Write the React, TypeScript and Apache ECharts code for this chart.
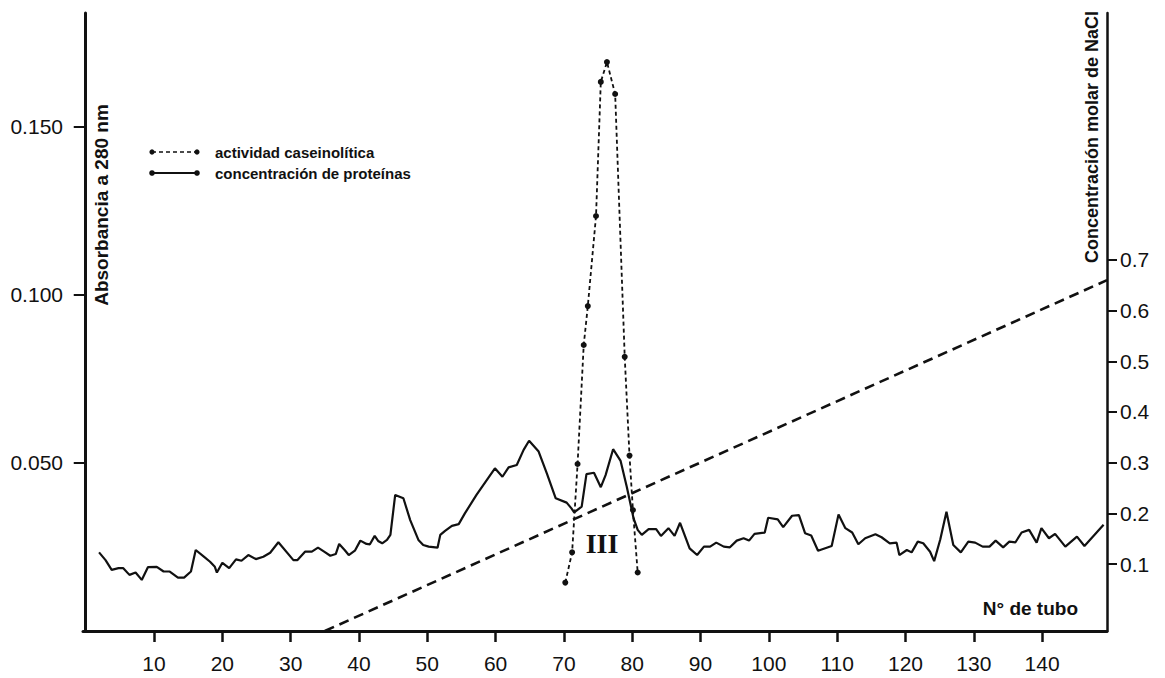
import React, { useEffect, useRef } from "react";
import * as echarts from "echarts";

// Concentración de proteínas (absorbancia a 280 nm) por nº de tubo
const proteinTubes = [
  1.95, 2.9, 3.8, 4.8, 5.5, 6.4, 7.3, 8.2, 9.1, 10.4, 11.4, 12.3, 13.5, 14.4, 15.4, 16.1, 17.2, 18.2, 18.9, 19.2,
  20.0, 21.0, 22.0, 22.8, 23.8, 24.9, 26.0, 27.0, 28.2, 30.4, 31.0, 32.1, 33.1, 34.0, 34.9, 35.8, 36.6, 37.1, 37.9,
  38.5, 39.4, 40.2, 41.1, 41.6, 42.3, 42.8, 43.4, 44.1, 44.6, 45.3, 46.5, 47.5, 48.7, 49.4, 50.2, 51.5, 51.9, 52.6,
  53.6, 54.6, 55.5, 57.2, 59.9, 61.0, 61.9, 63.1, 64.1, 64.9, 66.3, 67.5, 68.8, 70.4, 71.1, 71.5, 72.6, 73.3, 74.4,
  75.4, 76.1, 77.2, 78.3, 79.2, 80.2, 80.8, 81.4, 82.4, 83.5, 84.2, 85.3, 86.2, 87.0, 88.4, 89.5, 90.5, 91.4, 92.3,
  93.4, 94.3, 95.3, 96.3, 97.1, 97.9, 99.4, 99.9, 101.3, 102.1, 103.4, 104.4, 105.3, 106.2, 107.2, 109.2, 110.2,
  111.2, 112.2, 113.1, 114.1, 115.6, 116.5, 117.7, 118.7, 119.1, 120.2, 120.9, 121.8, 122.6, 123.6, 124.2, 125.1,
  126.0, 127.0, 128.1, 129.2, 130.2, 131.3, 132.3, 133.2, 134.3, 135.2, 136.1, 137.0, 138.1, 139.2, 139.9, 141.0,
  141.9, 143.4, 145.1, 146.2, 149.0,
];
const proteinAbs = [
  0.0234, 0.0211, 0.0182, 0.0187, 0.0187, 0.0167, 0.0174, 0.0152, 0.019, 0.0191, 0.0177, 0.0177, 0.0159, 0.0159,
  0.0177, 0.0241, 0.0223, 0.0206, 0.0191, 0.0174, 0.0203, 0.0187, 0.0213, 0.0209, 0.0226, 0.0214, 0.0221, 0.0233,
  0.0264, 0.0211, 0.0211, 0.0236, 0.0236, 0.0248, 0.0236, 0.0224, 0.0229, 0.0259, 0.0241, 0.0226, 0.0239, 0.0269,
  0.0259, 0.0258, 0.0283, 0.0268, 0.0261, 0.0271, 0.0286, 0.0405, 0.0395, 0.033, 0.0271, 0.0256, 0.0251, 0.0248,
  0.0286, 0.0298, 0.0313, 0.0318, 0.035, 0.0405, 0.0484, 0.0459, 0.0487, 0.0494, 0.0539, 0.0566, 0.0534, 0.0469,
  0.0395, 0.0382, 0.0365, 0.0353, 0.037, 0.0467, 0.0471, 0.0428, 0.0464, 0.0541, 0.0506, 0.0429, 0.0335, 0.0301,
  0.0286, 0.0303, 0.0303, 0.0283, 0.0306, 0.0283, 0.0322, 0.0246, 0.0226, 0.0251, 0.0251, 0.0263, 0.0251, 0.0249,
  0.0269, 0.0276, 0.0269, 0.0289, 0.0293, 0.0337, 0.0332, 0.0309, 0.0343, 0.0345, 0.0291, 0.0284, 0.0239, 0.0253,
  0.0347, 0.0306, 0.0293, 0.0258, 0.0276, 0.0288, 0.0279, 0.0261, 0.0263, 0.0226, 0.0241, 0.0234, 0.0266, 0.0261,
  0.0236, 0.0208, 0.0273, 0.0355, 0.0256, 0.0234, 0.0266, 0.0263, 0.0251, 0.0251, 0.0269, 0.0249, 0.0266, 0.0264,
  0.0293, 0.0301, 0.0263, 0.0306, 0.0276, 0.0289, 0.0251, 0.0281, 0.0253, 0.0316,
];

// Actividad caseinolítica
const activityTubes = [70.2, 71.2, 72.0, 72.9, 73.5, 74.7, 75.4, 76.3, 77.5, 78.9, 79.6, 80.1, 80.8];
const activityValues = [0.0144, 0.0234, 0.0497, 0.0851, 0.0967, 0.1235, 0.1634, 0.1693, 0.1598, 0.0816, 0.0522, 0.036, 0.0174];

// Gradiente de NaCl (concentración molar)
const gradientTubes = [35, 149.5];
const gradientNaCl = [-0.032, 0.66];

// Tick labels
const xTicks = [10, 20, 30, 40, 50, 60, 70, 80, 90, 100, 110, 120, 130, 140];
const leftTicks = [0.05, 0.1, 0.15];
const rightTicks = [0.1, 0.2, 0.3, 0.4, 0.5, 0.6, 0.7];

const FONT = "'Liberation Sans', Arial, Helvetica, sans-serif";

export default function App() {
  const ref = useRef<HTMLDivElement>(null);

  useEffect(() => {
    if (!ref.current) return;
    const chart = echarts.init(ref.current, null, { renderer: "svg" });
    const black = "#111";
    const option: any = {
      animation: false,
      backgroundColor: "#fff",
      grid: { left: 83, right: 58, top: 13, bottom: 47, containLabel: false },
      xAxis: {
        type: "value",
        min: -0.4,
        max: 149.5,
        splitLine: { show: false },
        axisLine: { onZero: false, lineStyle: { color: black, width: 3 } },
        axisTick: { customValues: xTicks, length: 11, lineStyle: { color: black, width: 2.5 } },
        axisLabel: { customValues: xTicks, margin: 22, color: black, fontSize: 21, fontFamily: FONT },
      },
      yAxis: [
        {
          type: "value",
          position: "left",
          min: 0,
          max: 0.1839,
          splitLine: { show: false },
          axisLine: { show: true, lineStyle: { color: black, width: 3 } },
          axisTick: { customValues: leftTicks, length: 12, lineStyle: { color: black, width: 2 } },
          axisLabel: {
            customValues: leftTicks,
            margin: 20,
            color: black,
            fontSize: 21,
            fontFamily: FONT,
            formatter: (v: number) => v.toFixed(3),
          },
        },
        {
          type: "value",
          position: "right",
          min: -0.032,
          max: 1.187,
          splitLine: { show: false },
          axisLine: { show: true, lineStyle: { color: black, width: 2.5 } },
          axisTick: { customValues: rightTicks, length: 10, lineStyle: { color: black, width: 2 } },
          axisLabel: {
            customValues: rightTicks,
            margin: 13,
            color: black,
            fontSize: 21,
            fontFamily: FONT,
            formatter: (v: number) => v.toFixed(1),
          },
        },
      ],
      series: [
        {
          name: "concentración de proteínas",
          type: "line",
          yAxisIndex: 0,
          symbol: "none",
          data: proteinTubes.map((t, i) => [t, proteinAbs[i]]),
          lineStyle: { color: black, width: 2.2 },
        },
        {
          name: "actividad caseinolítica",
          type: "line",
          yAxisIndex: 0,
          symbol: "circle",
          symbolSize: 6,
          clip: false,
          data: activityTubes.map((t, i) => [t, activityValues[i]]),
          lineStyle: { color: black, width: 1.8, type: [4, 3] },
          itemStyle: { color: black },
        },
        {
          name: "NaCl",
          type: "line",
          yAxisIndex: 1,
          symbol: "none",
          clip: false,
          data: gradientTubes.map((t, i) => [t, gradientNaCl[i]]),
          lineStyle: { color: black, width: 2.6, type: [10, 6] },
        },
      ],
      graphic: [
        {
          type: "text",
          x: 101,
          y: 205,
          rotation: Math.PI / 2,
          style: {
            text: "Absorbancia a 280 nm",
            fill: black,
            font: `bold 19px ${FONT}`,
            textAlign: "center",
            textVerticalAlign: "middle",
          },
        },
        {
          type: "text",
          x: 1092,
          y: 137,
          rotation: Math.PI / 2,
          style: {
            text: "Concentración molar de NaCl",
            fill: black,
            font: `bold 18px ${FONT}`,
            textAlign: "center",
            textVerticalAlign: "middle",
          },
        },
        {
          type: "text",
          x: 1078,
          y: 608,
          style: {
            text: "N° de tubo",
            fill: black,
            font: `bold 19px ${FONT}`,
            textAlign: "right",
            textVerticalAlign: "middle",
          },
        },
        {
          type: "text",
          x: 602,
          y: 543,
          style: {
            text: "III",
            fill: black,
            font: `bold 28px 'Liberation Serif', 'DejaVu Serif', serif`,
            textAlign: "center",
            textVerticalAlign: "middle",
          },
        },
        // Legend
        {
          type: "line",
          shape: { x1: 152, y1: 152, x2: 197, y2: 152 },
          style: { stroke: black, lineWidth: 1.6, lineDash: [4, 3] },
        },
        { type: "circle", shape: { cx: 152, cy: 152, r: 2.6 }, style: { fill: black } },
        { type: "circle", shape: { cx: 197, cy: 152, r: 2.6 }, style: { fill: black } },
        {
          type: "line",
          shape: { x1: 152, y1: 173, x2: 197, y2: 173 },
          style: { stroke: black, lineWidth: 2 },
        },
        { type: "circle", shape: { cx: 152, cy: 173, r: 2.8 }, style: { fill: black } },
        { type: "circle", shape: { cx: 197, cy: 173, r: 2.8 }, style: { fill: black } },
        {
          type: "text",
          x: 215,
          y: 152,
          style: {
            text: "actividad caseinolítica",
            fill: black,
            font: `bold 15px ${FONT}`,
            textVerticalAlign: "middle",
          },
        },
        {
          type: "text",
          x: 215,
          y: 173,
          style: {
            text: "concentración de proteínas",
            fill: black,
            font: `bold 15px ${FONT}`,
            textVerticalAlign: "middle",
          },
        },
      ],
    };
    chart.setOption(option);
    return () => chart.dispose();
  }, []);

  return (
    <div
      ref={ref}
      style={{ position: "fixed", left: 0, top: 0, width: 1165, height: 678, background: "#fff" }}
    />
  );
}
